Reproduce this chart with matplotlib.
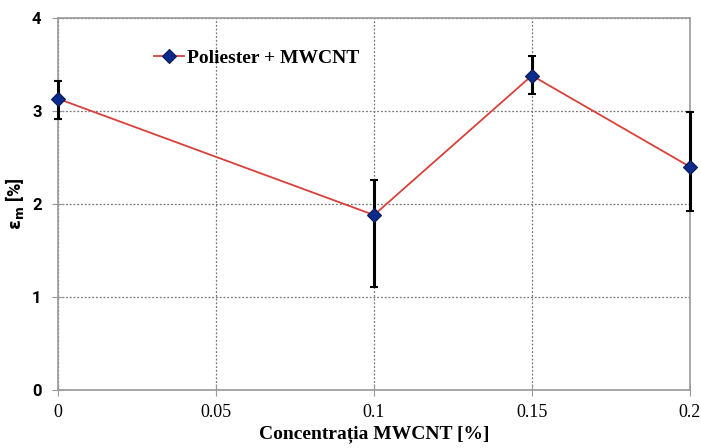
import matplotlib.pyplot as plt

conc = [0, 0.1, 0.15, 0.2]
eps = [3.13, 1.88, 3.38, 2.40]
err_low = [2.91, 1.11, 3.18, 1.92]
err_high = [3.32, 2.26, 3.59, 2.99]

yerr = [[e - lo for e, lo in zip(eps, err_low)],
        [hi - e for e, hi in zip(eps, err_high)]]

fig = plt.figure(figsize=(7.01, 4.48), dpi=100)
ax = fig.add_axes([0.083, 0.13, 0.901, 0.83])

eb = ax.errorbar(conc, eps, yerr=yerr, fmt="none", ecolor="black", elinewidth=2.2,
                 capsize=3, capthick=1.5, zorder=3)
for art in eb.lines[1] + eb.lines[2]:
    art.set_clip_on(False)
line, = ax.plot(conc, eps, color="#d9403a", lw=1.3, marker="D", markersize=7,
                markerfacecolor="#0a2a8c", markeredgecolor="#0a1a50",
                markeredgewidth=0.8, label="Poliester + MWCNT", zorder=4)
line.set_clip_on(False)

ax.set_xlim(0, 0.2)
ax.set_ylim(0, 4)
ax.set_xticks([0, 0.05, 0.1, 0.15, 0.2])
ax.set_xticklabels(["0", "0.05", "0.1", "0.15", "0.2"])
ax.set_yticks([0, 1, 2, 3, 4])
ax.grid(True, color="#777777", linestyle=(0, (1.5, 1.5)), linewidth=0.9)
for s in ax.spines.values():
    s.set_color("#999999")
    s.set_linewidth(1.2)
ax.tick_params(axis="y", direction="inout", length=8, color="#999999", pad=8)
ax.tick_params(axis="x", direction="inout", length=8, color="#999999", pad=6)
for lbl in ax.get_xticklabels():
    lbl.set_family("Liberation Serif")
    lbl.set_fontsize(13)
for lbl in ax.get_yticklabels():
    lbl.set_family("Roboto")
    lbl.set_fontweight("bold")
    lbl.set_fontsize(12)

ax.set_xlabel("Concentrația MWCNT [%]", family="Liberation Serif",
              fontweight="bold", fontsize=14, labelpad=3)
ax.set_ylabel(r"$\mathbf{\varepsilon_m}$ [%]", family="Roboto",
              fontweight="bold", fontsize=13, labelpad=4)

leg = ax.legend(loc="center left", bbox_to_anchor=(0.14, 0.893), frameon=False,
                handlelength=1.5, handletextpad=0.2, borderaxespad=0,
                prop={"family": "Liberation Serif", "weight": "bold", "size": 14})

fig.savefig("out.png", dpi=100)
